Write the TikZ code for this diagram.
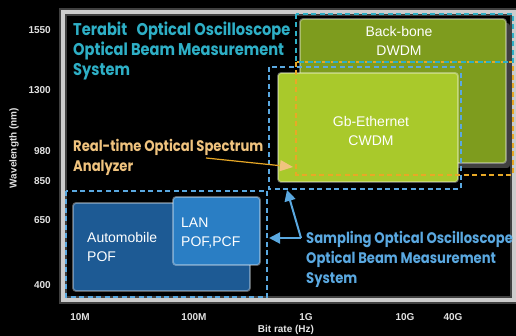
\documentclass[tikz,border=0pt]{standalone}
\usepackage{fontspec}
\setmainfont{Liberation Sans}
\newfontfamily\headfont[FakeStretch=0.86]{Poppins}
\usetikzlibrary{arrows.meta,positioning,calc}
\definecolor{cyanhead}{HTML}{2EAFC6}
\definecolor{peach}{HTML}{F0C37E}
\definecolor{ambre}{HTML}{E8A826}
\definecolor{skyblue}{HTML}{5AA8E0}
\definecolor{olive}{HTML}{7E9C1E}
\definecolor{lime}{HTML}{A9C92B}
\definecolor{navyblue}{HTML}{1D5A94}
\definecolor{lanblue}{HTML}{2A7EC4}
\definecolor{ticktext}{HTML}{E2E2E2}

\begin{document}
\begin{tikzpicture}[x=1pt,y=-1pt,
    ticklabel/.style={font=\bfseries\fontsize{10}{11}\selectfont, text=ticktext, inner sep=0pt},
    boxlabel/.style={font=\fontsize{14}{19.5}\selectfont, text=white, inner sep=0pt},
    heading/.style={font=\headfont\bfseries\fontsize{#1}{20}\selectfont, align=left, anchor=north west, inner sep=0pt},
    dashbox/.style={line width=2.4pt, dash pattern=on 5pt off 3.5pt},
    glowedge/.style={draw=white, draw opacity=0.35, line width=1.8pt, rounded corners=3pt}]

    \fill[black] (0,0) rectangle (516,336);
    \useasboundingbox (0,0) rectangle (516,336);

    % frame of the chart
    \coordinate (F1) at (63,12);
    \coordinate (F2) at (514,300);
    \draw[white, opacity=0.25, line width=8pt] (F1) rectangle (F2);
    \draw[white!80!black, line width=3.2pt] (F1) rectangle (F2);

    % boxes
    \coordinate (BB1) at (300,19);  \coordinate (BB2) at (506,163);
    \coordinate (GB1) at (278,73);  \coordinate (GB2) at (458,182);
    \coordinate (AU1) at (73,203);  \coordinate (AU2) at (250,291);
    \coordinate (LA1) at (173,197); \coordinate (LA2) at (260,265);

    \fill[black!75, rounded corners=3pt] ($(BB1)+(3,4)$) rectangle ($(BB2)+(4,5)$);
    \filldraw[fill=olive, glowedge] (BB1) rectangle (BB2);
    \filldraw[fill=lime, glowedge] (GB1) rectangle (GB2);
    \filldraw[fill=navyblue, glowedge] (AU1) rectangle (AU2);
    \filldraw[fill=lanblue, glowedge] (LA1) rectangle (LA2);

    \node[boxlabel, align=center] (backbone) at (399,41) {Back-bone\\DWDM};
    \node[boxlabel, align=center] (gbeth) at (371,131) {Gb-Ethernet\\CWDM};
    \node[boxlabel, align=left, anchor=west] (auto) at (87,247) {Automobile\\POF};
    \node[boxlabel, align=left, anchor=west] (lan) at (181,233) {LAN\\POF,PCF};

    % dashed ranges
    \draw[dashbox, ambre] (296,62) rectangle (513,175);
    \draw[dashbox, cyanhead] (296,14) rectangle (513,62);
    \draw[dashbox, skyblue] (269,67) rectangle (461,189);
    \draw[dashbox, skyblue] (66,191) rectangle (267,297);

    % methods
    \node[heading=17, text=cyanhead] (terabit) at (73,22)
        {Terabit\hspace{0.55em}Optical Oscilloscope\\Optical Beam Measurement\\System};
    \node[heading=15.3, text=peach] (realtime) at (73,139)
        {Real-time Optical Spectrum\\Analyzer};
    \node[heading=15.3, text=skyblue] (sampling) at (306,231)
        {Sampling Optical Oscilloscope\\Optical Beam Measurement\\System};

    \coordinate (rtStart) at (206,158);
    \coordinate (rtTip) at (293,167);
    \draw[ambre, line width=1.2pt, -{Triangle[length=13pt,width=11pt,fill=peach,color=peach]}] (rtStart) -- (rtTip);

    \coordinate (smBend) at (301,238);
    \coordinate (smUp) at (287,190);
    \coordinate (smLeft) at (269,238);
    \draw[skyblue, line width=2pt, -{Triangle[length=11pt,width=11pt]}] (smBend) -- (smUp);
    \draw[skyblue, line width=2pt, -{Triangle[length=11pt,width=11pt]}] (smBend) -- (smLeft);

    % axes
    \node[ticklabel, anchor=east] (y1550) at (51,30) {1550};
    \node[ticklabel, anchor=east] (y1300) at (51,90) {1300};
    \node[ticklabel, anchor=east] (y980) at (51,151) {980};
    \node[ticklabel, anchor=east] (y850) at (51,181) {850};
    \node[ticklabel, anchor=east] (y650) at (51,220) {650};
    \node[ticklabel, anchor=east] (y400) at (51,285) {400};

    \node[ticklabel] (x10M) at (80,317) {10M};
    \node[ticklabel] (x100M) at (194,317) {100M};
    \node[ticklabel] (x1G) at (306,317) {1G};
    \node[ticklabel] (x10G) at (405,317) {10G};
    \node[ticklabel] (x40G) at (453,317) {40G};

    \node[ticklabel] (xlabel) at (286,330) {Bit rate (Hz)};
    \node[ticklabel, rotate=90] (ylabel) at (14,148) {Wavelength (nm)};
\end{tikzpicture}
\end{document}
